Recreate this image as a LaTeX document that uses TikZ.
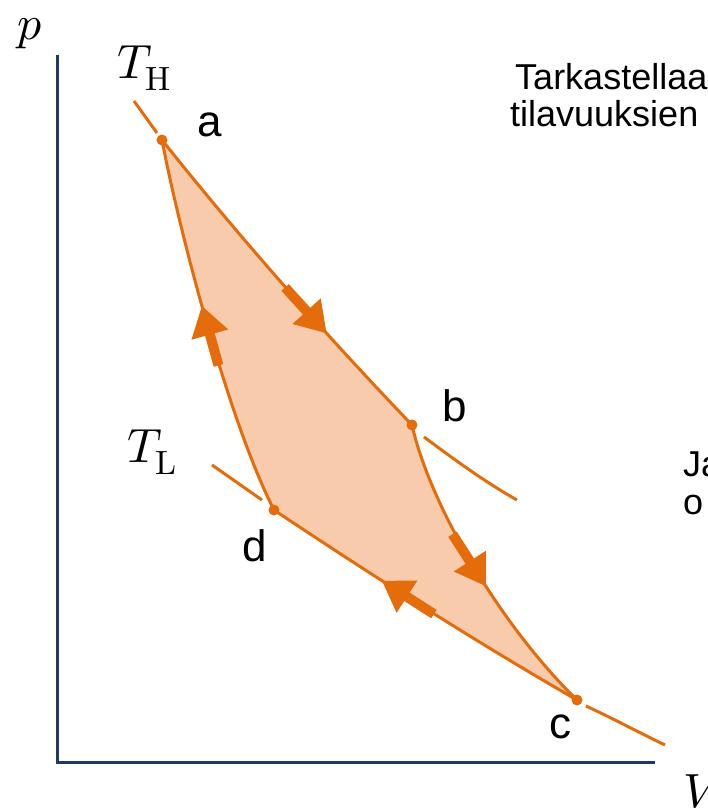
\documentclass[tikz,border=0pt]{standalone}
\usepackage{fontspec}
\usepackage{unicode-math}
\setmainfont{Liberation Sans}
\setmathfont{Latin Modern Math}
\usetikzlibrary{arrows.meta,decorations.markings}
\definecolor{cycleorange}{RGB}{228,108,10}
\definecolor{cyclefill}{RGB}{248,203,173}
\definecolor{axisblue}{RGB}{31,56,100}
\begin{document}
\begin{tikzpicture}[x=1pt,y=-1pt,
    every node/.style={inner sep=0pt},
    ptlabel/.style={font=\fontsize{44}{44}\selectfont},
    mathlabel/.style={font=\fontsize{48}{48}\selectfont},
    textnote/.style={font=\fontsize{36}{40}\selectfont, anchor=base west},
    dot/.style={circle, fill=cycleorange, minimum size=11pt},
    cycleline/.style={draw=cycleorange, line width=3pt},
    isoline/.style={draw=cycleorange, line width=3pt},
    flowmark/.style={postaction={decorate, decoration={markings,
      mark=at position #1 with {\draw[cycleorange, line width=10pt, -{Triangle[length=30pt,width=36pt]}] (-62pt,0) -- (0pt,0);}}}}
  ]
  \useasboundingbox (0,0) rectangle (707,810);
  \clip (0,0) rectangle (707,810);

  \coordinate (a) at (162,140);
  \coordinate (b) at (412,425);
  \coordinate (c) at (577,700);
  \coordinate (d) at (274,510);

  \coordinate (origin) at (57,762);
  \coordinate (ptop) at (57,55);
  \coordinate (vend) at (655,762);
  \draw[axisblue, line width=3pt] (ptop) -- (origin) -- (vend);

  \fill[cyclefill] (a) .. controls (240,238) and (325,334) .. (b)
    .. controls (430,505) and (500,625) .. (c)
    .. controls (473,640) and (373,576) .. (d)
    .. controls (228,420) and (178,225) .. (a) -- cycle;

  \coordinate (hot1) at (134,101);
  \coordinate (hot2) at (157,133);
  \coordinate (hot3) at (424,437);
  \coordinate (hot4) at (517,500);
  \coordinate (cold1) at (212,465);
  \coordinate (cold2) at (262,500);
  \coordinate (cold3) at (586,706);
  \coordinate (cold4) at (665,745);
  \draw[isoline] (hot1) -- (hot2);
  \draw[isoline] (hot3) .. controls (455,460) and (485,482) .. (hot4);
  \draw[isoline] (cold1) -- (cold2);
  \draw[isoline] (cold3) .. controls (612,718) and (638,732) .. (cold4);

  \draw[cycleline, flowmark=0.67] (a) .. controls (240,238) and (325,334) .. (b);
  \draw[cycleline, flowmark=0.55] (b) .. controls (430,505) and (500,625) .. (c);
  \draw[cycleline, flowmark=0.64] (c) .. controls (473,640) and (373,576) .. (d);
  \draw[cycleline, flowmark=0.56] (d) .. controls (228,420) and (178,225) .. (a);

  \node[dot] (adot) at (a) {};
  \node[dot] (bdot) at (b) {};
  \node[dot] (cdot) at (c) {};
  \node[dot] (ddot) at (d) {};

  \node[ptlabel] (alabel) at (210,125) {a};
  \node[ptlabel] (blabel) at (455,406) {b};
  \node[ptlabel] (clabel) at (560,727) {c};
  \node[ptlabel] (dlabel) at (255,546) {d};

  \node[mathlabel] (plabel) at (30,34) {$p$};
  \node[mathlabel, anchor=west] (vlabel) at (683,792) {$V$};
  \node[mathlabel] (thot) at (144,68) {$T_{\symup{H}}$};
  \node[mathlabel] (tcold) at (152,452) {$T_{\symup{L}}$};

  \node[textnote] (noteone) at (515,90) {Tarkastellaa};
  \node[textnote] (notetwo) at (510,127) {tilavuuksien};
  \node[textnote] (notethree) at (683,476) {Ja};
  \node[textnote] (notefour) at (683,514) {o};
\end{tikzpicture}
\end{document}
